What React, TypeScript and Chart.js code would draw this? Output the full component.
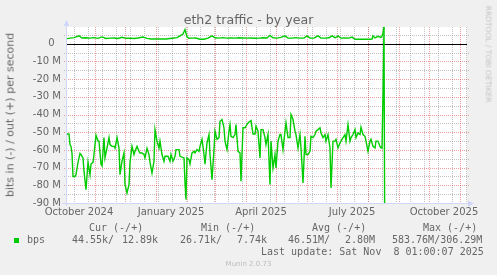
import React, { useEffect, useRef } from "react";
import { Chart, registerables } from "chart.js";

Chart.register(...registerables);

// ---- data (days since 2024-10-01, values in Mbit/s; "in" drawn negative) ----
const inDays = [
  2, 5, 6, 7, 8, 9, 11, 12, 14, 16,
  17, 19, 20, 22, 24, 26, 27, 29, 30, 32,
  34, 35, 37, 38, 40, 41, 43, 45, 46, 48,
  50, 51, 53, 55, 56, 58, 60, 61, 63, 65,
  66, 68, 70, 71, 73, 75, 76, 78, 80, 81,
  83, 85, 86, 88, 90, 91, 93, 95, 96, 98,
  100, 101, 104, 106, 107, 109, 111, 112, 115, 116,
  120, 121, 122, 123, 125, 126, 128, 130, 131, 133,
  135, 136, 138, 140, 141, 143, 145, 146, 148, 150,
  151, 153, 155, 156, 158, 160, 161, 163, 165, 166,
  167, 169, 171, 172, 174, 176, 177, 179, 181, 182,
  184, 186, 187, 189, 191, 192, 194, 196, 197, 199,
  201, 202, 204, 206, 207, 209, 211, 212, 214, 216,
  217, 219, 221, 222, 224, 226, 227, 229, 231, 232,
  234, 236, 237, 239, 241, 242, 244, 246, 247, 249,
  251, 252, 254, 256, 257, 259, 261, 262, 264, 266,
  267, 269, 271, 272, 274, 276, 277, 279, 281, 282,
  284, 286, 287, 289, 291, 292, 294, 296, 297, 299,
  301, 302, 304, 306, 307, 309, 311, 312, 314, 316,
  317, 318, 319, 320, 321,
];
const inValues = [
  -51, -51, -57, -58, -62, -75, -75, -74, -67, -62,
  -62.6, -64.5, -72, -82.5, -67, -74, -68, -67, -62.6, -51.7,
  -55, -55, -68, -69, -53, -64.5, -59, -53, -57, -58,
  -58, -59, -53, -59, -74, -66.4, -61.7, -79.6, -84.3, -79.6,
  -67, -58, -62.6, -60.8, -58, -60.8, -61.7, -61.7, -62.6, -64.5,
  -59, -62.6, -67, -73, -66.4, -48.5, -55, -59, -55, -62.6,
  -66.4, -63.6, -63.6, -66.4, -62.6, -66.4, -63.6, -59.8, -59.8, -63.6,
  -64.5, -78.7, -88, -64.5, -65.5, -68, -61.7, -60.8, -61.7, -59.8,
  -60.8, -58, -54, -62.6, -68, -56, -51.3, -62.6, -76.8, -59.8,
  -49.4, -54, -53, -43.8, -42.8, -47.5, -55, -59.8, -49.4, -45.7,
  -52.3, -53, -51.3, -45.7, -60.8, -61.7, -77.7, -47.5, -47.5, -46.6,
  -44.7, -43.8, -43.4, -51, -51, -46.6, -49.4, -64.5, -48.5, -48.5,
  -53, -57, -51.3, -79.6, -55, -70.2, -62.6, -70.2, -55, -51.3,
  -51.3, -59.8, -49.4, -44.7, -53, -53, -40, -42.8, -49.4, -51.3,
  -58.9, -51.3, -58.9, -78.7, -52.3, -62.6, -62.6, -60.8, -52.3, -53,
  -51.3, -49.4, -48.5, -47.5, -50.4, -53, -51.3, -55, -51.3, -58.9,
  -81.5, -55, -55, -54, -58.9, -56, -55, -53, -51.3, -55,
  -45.7, -55, -53, -51.3, -48.5, -53, -50.4, -51.3, -47.2, -51.3,
  -52.3, -55, -60.8, -55, -54, -58, -58.9, -55, -55, -58,
  -58.9, -59, -29, 9.5, -150,
];
const outDays = [
  2, 6, 10, 15, 18, 22, 26, 30, 34, 38,
  42, 46, 50, 54, 58, 62, 66, 70, 74, 79,
  83, 87, 92, 97, 102, 106, 110, 113, 116, 119,
  121, 123, 125, 128, 132, 136, 140, 144, 148, 151,
  155, 159, 163, 167, 171, 175, 179, 183, 187, 191,
  195, 199, 203, 206, 209, 213, 217, 221, 224, 228,
  232, 236, 240, 243, 246, 250, 254, 257, 261, 265,
  268, 271, 273, 274, 277, 281, 285, 288, 291, 296,
  301, 306, 308, 309, 311, 314, 317, 318, 319, 320,
];
const outValues = [
  2.8, 3.2, 3.5, 4.5, 3.3, 3.4, 3.2, 3.5, 3.1, 3.9,
  3.0, 3.2, 3.3, 3.0, 3.7, 3.1, 3.2, 3.0, 3.3, 3.8,
  3.1, 2.7, 2.7, 2.7, 2.7, 3.0, 3.3, 3.5, 4.5, 5.5,
  8.0, 4.0, 3.1, 3.2, 3.3, 2.6, 2.6, 3.2, 4.5, 3.4,
  3.2, 3.5, 3.2, 3.3, 3.2, 3.4, 3.3, 3.2, 3.3, 3.1,
  3.2, 3.4, 3.3, 4.8, 3.4, 3.2, 3.6, 4.5, 3.3, 3.2,
  3.5, 3.2, 3.3, 4.5, 3.3, 3.2, 4.5, 3.3, 3.2, 3.4,
  4.5, 3.5, 3.9, 4.5, 3.2, 3.3, 3.2, 3.8, 2.6, 2.6,
  2.6, 2.6, 2.7, 4.5, 3.3, 4.2, 3.6, 4.5, 6.0, 9.5,
];

const xLabelDays = [15, 107, 197, 288, 380];
const xLabels = ["October 2024", "January 2025", "April 2025", "July 2025", "October 2025"];
const monthStartDays = [31, 61, 92, 123, 151, 182, 212, 243, 273, 304, 335, 365, 396];
const yTickValues = [-90, -80, -70, -60, -50, -40, -30, -20, -10, 0];
const X_MIN = 2;
const X_MAX = 403;
const Y_MIN = -90;
const Y_MAX = 9.5;
const WEEK_GRID_START = 10;
const WEEK_GRID_STEP = 14;

const legendHeaders = ["Cur (-/+)", "Min (-/+)", "Avg (-/+)", "Max (-/+)"];
const legendHeaderX = [89, 201, 312, 423];
const legendValues = ["44.55k/", "12.89k", "26.71k/", "7.74k", "46.51M/", "2.80M", "583.76M/306.29M"];
const legendValueX = [72, 122, 180, 237, 288, 345, 392];

const GREEN = "#00CC00";
const AXIS = "#CFD6F8";
const FONT = "#666666";
const SANS = "'DejaVu Sans', sans-serif";
const MONO = "'DejaVu Sans Mono', monospace";

const muninPlugin = {
  id: "muninDecor",
  beforeDraw(chart: any) {
    const { ctx, chartArea: a, width, height } = chart;
    ctx.save();
    ctx.fillStyle = "#F0F0F0";
    ctx.fillRect(0, 0, width, height);
    ctx.fillStyle = "#FFFFFF";
    ctx.fillRect(a.left, a.top, a.right - a.left, a.bottom - a.top);
    ctx.restore();
  },
  beforeDatasetsDraw(chart: any) {
    const { ctx, chartArea: a, scales } = chart;
    const xs = scales.x;
    const ys = scales.y;
    const minorC = "rgba(143,143,143,0.55)";
    const majorC = "rgba(222,79,79,0.55)";
    ctx.save();
    ctx.lineWidth = 1;
    ctx.setLineDash([1, 1]);
    const hline = (v: number, c: string) => {
      const y = Math.round(ys.getPixelForValue(v)) + 0.5;
      ctx.strokeStyle = c;
      ctx.beginPath();
      ctx.moveTo(a.left - 2, y);
      ctx.lineTo(a.right + 2, y);
      ctx.stroke();
    };
    const vline = (d: number, c: string) => {
      const x = Math.round(xs.getPixelForValue(d)) + 0.5;
      ctx.strokeStyle = c;
      ctx.beginPath();
      ctx.moveTo(x, a.top);
      ctx.lineTo(x, a.bottom + 2);
      ctx.stroke();
    };
    for (let v = Y_MIN + 5; v < Y_MAX; v += 10) hline(v, minorC);
    for (let d = WEEK_GRID_START; d < X_MAX; d += WEEK_GRID_STEP) vline(d, minorC);
    yTickValues.forEach((v) => {
      if (v !== 0 && v !== Y_MIN) hline(v, majorC);
    });
    monthStartDays.forEach((d) => {
      if (d > X_MIN && d < X_MAX) vline(d, majorC);
    });
    ctx.setLineDash([]);
    const y0 = Math.round(ys.getPixelForValue(0)) + 0.5;
    ctx.strokeStyle = "#000000";
    ctx.beginPath();
    ctx.moveTo(a.left, y0);
    ctx.lineTo(a.right, y0);
    ctx.stroke();
    ctx.restore();
  },
  afterDatasetsDraw(chart: any) {
    const { ctx, chartArea: a } = chart;
    ctx.save();
    ctx.strokeStyle = AXIS;
    ctx.fillStyle = AXIS;
    ctx.lineWidth = 1;
    const xl = Math.round(a.left) + 0.5;
    const yb = Math.round(a.bottom) + 0.5;
    ctx.beginPath();
    ctx.moveTo(xl, a.bottom + 3);
    ctx.lineTo(xl, a.top - 1);
    ctx.moveTo(a.left - 4, yb);
    ctx.lineTo(a.right + 1, yb);
    ctx.stroke();
    ctx.beginPath();
    ctx.moveTo(xl - 3, a.top - 1);
    ctx.lineTo(xl + 3, a.top - 1);
    ctx.lineTo(xl, a.top - 7);
    ctx.closePath();
    ctx.fill();
    ctx.beginPath();
    ctx.moveTo(a.right + 1, yb - 3);
    ctx.lineTo(a.right + 1, yb + 3);
    ctx.lineTo(a.right + 7, yb);
    ctx.closePath();
    ctx.fill();
    ctx.restore();
  },
};

function Txt(props: {
  x: number;
  baseline: number;
  size: number;
  family: string;
  color?: string;
  children: React.ReactNode;
}) {
  const { x, baseline, size, family, color, children } = props;
  const style: React.CSSProperties = {
    position: "absolute",
    left: x,
    top: baseline - 0.846 * size,
    fontSize: size,
    lineHeight: `${size}px`,
    fontFamily: family,
    color: color || FONT,
    whiteSpace: "pre",
  };
  return <div style={style}>{children}</div>;
}

export default function App() {
  const canvasRef = useRef<HTMLCanvasElement | null>(null);

  useEffect(() => {
    const canvas = canvasRef.current;
    if (!canvas) return;
    const chart = new Chart(canvas, {
      type: "line",
      data: {
        datasets: [
          {
            label: "in",
            data: inDays.map((d, i) => ({ x: d, y: inValues[i] })),
            borderColor: GREEN,
            borderWidth: 1.4,
            pointRadius: 0,
            tension: 0,
            fill: false,
          },
          {
            label: "out",
            data: outDays.map((d, i) => ({ x: d, y: outValues[i] })),
            borderColor: GREEN,
            borderWidth: 1.4,
            pointRadius: 0,
            tension: 0,
            fill: false,
          },
        ],
      },
      options: {
        animation: false,
        responsive: false,
        maintainAspectRatio: false,
        devicePixelRatio: 1,
        events: [],
        layout: { padding: { left: 0, top: 27, right: 30, bottom: 0 } },
        plugins: {
          legend: { display: false },
          tooltip: { enabled: false },
          title: { display: false },
        },
        scales: {
          x: {
            type: "linear",
            min: X_MIN,
            max: X_MAX,
            grid: { display: false, drawTicks: false },
            border: { display: false },
            afterBuildTicks: (s: any) => {
              s.ticks = xLabelDays.map((v) => ({ value: v }));
            },
            afterFit: (s: any) => {
              s.height = 72;
            },
            ticks: {
              autoSkip: false,
              maxRotation: 0,
              minRotation: 0,
              padding: 3,
              color: FONT,
              font: { family: "DejaVu Sans", size: 10 },
              callback: (_v: any, i: number) => xLabels[i],
            },
          },
          y: {
            type: "linear",
            min: Y_MIN,
            max: Y_MAX,
            grid: { display: false, drawTicks: false },
            border: { display: false },
            afterBuildTicks: (s: any) => {
              s.ticks = yTickValues.map((v) => ({ value: v }));
            },
            afterFit: (s: any) => {
              s.width = 66;
            },
            ticks: {
              padding: 5,
              color: FONT,
              font: { family: "DejaVu Sans", size: 10 },
              callback: (v: any) => (v === 0 ? "0  " : `${v} M`),
            },
          },
        },
      },
      plugins: [muninPlugin],
    } as any);
    return () => chart.destroy();
  }, []);

  const wrap: React.CSSProperties = {
    position: "fixed",
    left: 0,
    top: 0,
    width: 497,
    height: 275,
    background: "#F0F0F0",
    overflow: "hidden",
  };

  return (
    <div style={wrap}>
      <canvas ref={canvasRef} width={497} height={275} style={{ position: "absolute", left: 0, top: 0, width: 497, height: 275 }} />
      <div
        style={{
          position: "absolute",
          left: 0,
          width: 497,
          top: 24.2 - 0.846 * 12.6,
          textAlign: "center",
          fontFamily: SANS,
          fontSize: 12.6,
          lineHeight: "12.6px",
          color: FONT,
          whiteSpace: "pre",
        }}
      >
        eth2 traffic - by year
      </div>
      <div
        style={{
          position: "absolute",
          left: 9.5,
          top: 114.5,
          transform: "translate(-50%, -50%) rotate(-90deg)",
          fontFamily: SANS,
          fontSize: 11,
          lineHeight: "11px",
          color: FONT,
          whiteSpace: "pre",
        }}
      >
        bits in (-) / out (+) per second
      </div>
      <div
        style={{
          position: "absolute",
          left: 488.1,
          top: 53.5,
          transform: "translate(-50%, -50%) rotate(90deg)",
          fontFamily: SANS,
          fontSize: 7.5,
          lineHeight: "7.5px",
          color: "#C4C4C4",
          whiteSpace: "pre",
        }}
      >
        RRDTOOL / TOBI OETIKER
      </div>
      {legendHeaders.map((h, i) => (
        <Txt key={h} x={legendHeaderX[i]} baseline={231.3} size={10} family={MONO}>
          {h}
        </Txt>
      ))}
      <div style={{ position: "absolute", left: 14, top: 238, width: 5, height: 5, background: GREEN }} />
      <Txt x={27} baseline={243.3} size={10} family={MONO}>
        bps
      </Txt>
      {legendValues.map((v, i) => (
        <Txt key={v} x={legendValueX[i]} baseline={243.3} size={10} family={MONO}>
          {v}
        </Txt>
      ))}
      <Txt x={261} baseline={255.3} size={10} family={MONO}>
        {"Last update: Sat Nov  8 01:00:07 2025"}
      </Txt>
      <div
        style={{
          position: "absolute",
          left: 0,
          width: 497,
          top: 267 - 0.846 * 7,
          textAlign: "center",
          fontFamily: SANS,
          fontSize: 7,
          lineHeight: "7px",
          color: "#BDBDBD",
          whiteSpace: "pre",
        }}
      >
        Munin 2.0.73
      </div>
    </div>
  );
}
